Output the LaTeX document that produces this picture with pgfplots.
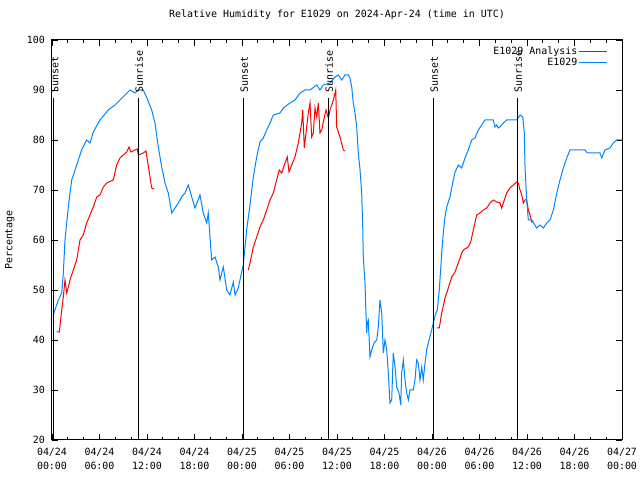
\documentclass[border=0pt]{standalone}
\usepackage{pgfplots}
\pgfplotsset{compat=1.18}
\usepackage{fontspec}
\setmainfont{DejaVu Sans Mono}
\definecolor{hblue}{RGB}{0,132,255}
\definecolor{hred}{RGB}{255,0,0}
\begin{document}
\fontsize{10}{14}\selectfont
\begin{tikzpicture}
\begin{axis}[
 scale only axis, width=570bp, height=400bp,
 xmin=0, xmax=72, ymin=20, ymax=100,
 xtick={0,6,...,72}, minor x tick num=2,
 ytick={20,30,...,100},
 xticklabels={{04/24\\00:00},{04/24\\06:00},{04/24\\12:00},{04/24\\18:00},{04/25\\00:00},{04/25\\06:00},{04/25\\12:00},{04/25\\18:00},{04/26\\00:00},{04/26\\06:00},{04/26\\12:00},{04/26\\18:00},{04/27\\00:00}},
 xticklabel style={align=center, inner sep=0pt, yshift=-8bp, font=\fontsize{10}{14}\selectfont},
 yticklabel style={inner sep=0pt, xshift=-7bp},
 /pgf/number format/assume math mode=true,
 tick align=inside, major tick length=6bp, minor tick length=3bp,
 tick style={black, line width=0.8bp},
 axis line style={black, line width=1bp},
 title={Relative Humidity for E1029 on 2024-Apr-24 (time in UTC)},
 title style={at={(axis description cs:0.5,1)}, anchor=base, yshift=17bp, inner sep=0pt},
 ylabel={Percentage},
 ylabel style={at={(axis description cs:-0.074,0.5)}, anchor=center, inner sep=0pt},
 legend style={at={(axis description cs:1,1)}, anchor=north east, xshift=-11bp, yshift=-3bp, draw=none, fill=none, legend cell align=right, row sep=-1bp, nodes={inner sep=1.5bp}},
 legend plot pos=right,
 legend image code/.code={\draw[#1] (0bp,0bp) -- (28bp,0bp);},
 unbounded coords=jump,
]
\addplot[hred, line width=1bp] coordinates {
(0.59,41.6) (0.92,41.6) (1.23,46) (1.43,48.6) (1.64,52) (1.86,49.4) (2.06,50.6) (2.27,52) (2.69,54) (3.12,56) (3.54,60) (3.95,61) (4.38,63.4) (4.8,65) (5.22,66.6) (5.65,68.6) (6.06,69) (6.48,70.6) (6.91,71.4) (7.74,72) (8.17,75) (8.59,76.4) (9.01,77) (9.44,77.6) (9.73,78.6) (9.98,77.6) (10.48,78) (10.77,78.2) (10.9,77) (11.53,77.4) (11.87,77.8) (12.09,75.6) (12.38,72.6) (12.59,70.4) (12.92,70.2)
(18,nan)
(24.8,54) (25.01,55.4) (25.43,58.6) (25.86,60.6) (26.27,62.6) (26.69,64) (27.12,66) (27.54,68) (27.95,69.4) (28.38,72) (28.71,74) (29.01,73.4) (29.43,75.4) (29.72,76.6) (29.94,73.6) (30.28,75) (30.69,76.6) (31.11,79.4) (31.54,83.4) (31.67,86) (31.87,78.4) (32.17,82.6) (32.37,85.4) (32.59,87.4) (32.8,80.6) (33.01,81.4) (33.22,86.4) (33.44,84.6) (33.64,87.4) (33.85,81.4) (34.07,82) (34.27,83.6) (34.61,86) (34.9,84.4) (35.12,86) (35.54,88) (35.84,90) (35.96,82.6) (36.38,80.6) (36.8,78) (37.01,77.8)
(42,nan)
(48.6,42.4) (48.92,42.4) (49.23,45.4) (49.64,48.4) (50.06,50.4) (50.49,52.6) (50.91,53.6) (51.32,55.4) (51.75,57.4) (51.96,58) (52.58,58.6) (52.89,59.6) (53.22,62) (53.65,65) (54.06,65.4) (54.48,66) (54.91,66.4) (55.33,67.4) (55.74,68) (56.17,67.6) (56.59,67.4) (56.8,66.4) (57.01,67.4) (57.43,69.4) (57.85,70.4) (58.27,71) (58.7,71.6) (58.9,71.4) (59.12,70) (59.33,69) (59.54,67.4) (59.75,68) (59.96,68) (60.17,66) (60.38,65) (60.6,63.6) (60.81,63.6)
};
\addlegendentry{E1029 Analysis}
\addplot[hblue, line width=1bp] coordinates {
(0.16,45) (0.8,48) (1.23,49.4) (1.43,53.4) (1.64,60) (2.06,66.6) (2.49,72) (2.91,74) (3.32,76) (3.75,78) (4.38,80) (4.8,79.4) (5.22,81.6) (6.06,84) (7.11,86) (7.96,87) (8.59,88) (9.22,89) (9.85,90) (10.48,89.4) (10.9,90) (11.53,90) (11.96,88.5) (12.59,86) (13.01,83.4) (13.43,78.6) (13.86,74.6) (14.27,71.4) (14.69,69.4) (15.12,65.4) (15.54,66.4) (15.95,67.4) (16.38,68.6) (16.8,69.4) (17.22,71) (17.65,68.6) (18.06,66.4) (18.69,69) (19.11,65.4) (19.54,63.4) (19.74,65.4) (20.17,56) (20.59,56.6) (21.01,54.6) (21.22,52) (21.64,54.6) (22.07,50) (22.48,49) (22.9,51.6) (23.12,49) (23.53,50.4) (23.96,53.6) (24.16,55) (24.59,62) (25.01,67) (25.43,72.6) (25.86,76.6) (26.27,79.6) (26.69,80.4) (27.12,82) (27.54,83.4) (27.95,85) (28.8,85.4) (29.22,86.4) (30.06,87.4) (30.7,88) (31.33,89.4) (31.96,90) (32.59,90) (33.44,91) (33.85,90) (34.27,91) (35.12,91.4) (35.75,92.6) (36.17,93) (36.6,92) (37.01,93) (37.43,93) (37.64,92.4) (37.86,90.6) (38.06,87.4) (38.27,85.4) (38.49,82.6) (38.69,77.4) (38.91,74) (39.12,69.4) (39.25,62.6) (39.32,56.6) (39.54,51.4) (39.63,46.6) (39.75,41.4) (39.83,43.4) (39.95,44) (40.17,36.6) (40.38,38) (40.67,39.4) (41.02,40) (41.22,42.6) (41.43,48) (41.65,45.4) (41.85,37.4) (42.06,40) (42.28,38) (42.48,33.4) (42.69,27.4) (42.91,28) (43.11,37.4) (43.33,34.6) (43.54,30.6) (43.83,29.4) (44.05,27) (44.17,33.4) (44.38,36) (44.59,32) (44.8,29.4) (45.01,28) (45.22,30) (45.64,30) (45.85,32) (46.06,36) (46.27,35.4) (46.48,32) (46.7,34.6) (46.9,32) (47.12,35.4) (47.33,38) (47.53,39.4) (47.96,42) (48.16,43.4) (48.5,45.4) (48.67,46) (48.92,50) (49.23,57.4) (49.43,61.4) (49.64,64.6) (49.86,66.6) (50.27,68.6) (50.69,72) (50.91,73.6) (51.32,75) (51.75,74.4) (52.17,76.4) (52.58,78) (53.01,80) (53.43,80.4) (53.85,82) (54.28,83) (54.69,84) (55.74,84) (55.96,82.6) (56.17,83) (56.37,82.4) (56.59,82.6) (57.01,83.4) (57.43,84) (58.7,84) (59.12,85) (59.46,84.6) (59.66,81.4) (59.75,74.6) (59.96,68) (60.17,64) (60.6,64) (61.23,62.4) (61.64,63) (62.06,62.4) (62.49,63.4) (62.91,64) (63.33,66) (63.76,69.4) (64.17,72) (64.59,74.4) (65.02,76.4) (65.43,78) (67.33,78) (67.62,77.4) (69.22,77.4) (69.44,76.4) (69.85,78) (70.48,78.4) (70.9,79.4) (71.33,80) (72,80)
};
\addlegendentry{E1029}
\addplot[black, line width=1bp, forget plot] coordinates {(0.15,20) (0.15,88.4)};
\addplot[black, line width=1bp, forget plot] coordinates {(10.9,20) (10.9,88.4)};
\addplot[black, line width=1bp, forget plot] coordinates {(24.17,20) (24.17,88.4)};
\addplot[black, line width=1bp, forget plot] coordinates {(34.9,20) (34.9,88.4)};
\addplot[black, line width=1bp, forget plot] coordinates {(48.17,20) (48.17,88.4)};
\addplot[black, line width=1bp, forget plot] coordinates {(58.78,20) (58.78,88.4)};
\node[rotate=90, anchor=west, inner sep=0pt] at (axis cs:0.35,89.4) {Sunset};
\node[rotate=90, anchor=west, inner sep=0pt] at (axis cs:11.0,89.4) {Sunrise};
\node[rotate=90, anchor=west, inner sep=0pt] at (axis cs:24.27,89.4) {Sunset};
\node[rotate=90, anchor=west, inner sep=0pt] at (axis cs:35.0,89.4) {Sunrise};
\node[rotate=90, anchor=west, inner sep=0pt] at (axis cs:48.27,89.4) {Sunset};
\node[rotate=90, anchor=west, inner sep=0pt] at (axis cs:58.88,89.4) {Sunrise};
\end{axis}
\pgfresetboundingbox
\path ([xshift=-52bp,yshift=-40bp]current axis.south west) rectangle ([xshift=18bp,yshift=40bp]current axis.north east);
\end{tikzpicture}
\end{document}
